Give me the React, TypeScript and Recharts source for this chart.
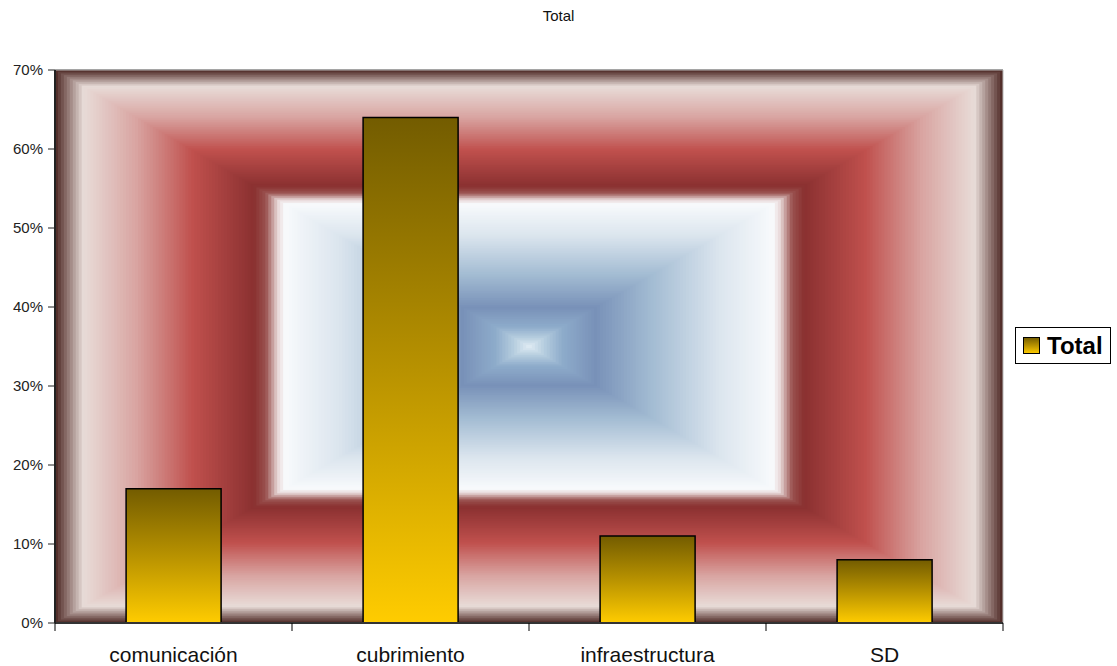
import React from "react";
import { Bar, BarChart, CartesianGrid, Legend, ReferenceArea, XAxis, YAxis } from "recharts";

const categories = ["comunicación", "cubrimiento", "infraestructura", "SD"];
const totals = [17, 64, 11, 8];
const yTicks = [0, 10, 20, 30, 40, 50, 60, 70];
const seriesName = "Total";

const data = categories.map((c, i) => ({ name: c, total: totals[i] }));

const FONT = "'Liberation Sans', Arial, Helvetica, sans-serif";

// rectangular "from centre" fill like the old Excel preset, t = 0 at the edge, 1 at the centre
const bgStops: [number, string][] = [
  [0, "#4a2420"],
  [0.06, "#e8dcd8"],
  [0.17, "#d9a5a2"],
  [0.29, "#c0504d"],
  [0.42, "#8a3030"],
  [0.445, "#9a5250"],
  [0.47, "#e8d8d8"],
  [0.485, "#f8fafc"],
  [0.6, "#dbe5ee"],
  [0.74, "#a3bcd3"],
  [0.86, "#7891b8"],
  [0.93, "#8eaccb"],
  [0.97, "#b8cfe0"],
  [1, "#e0ecf4"],
];

function hexToRgb(h: string) {
  const n = parseInt(h.slice(1), 16);
  return [(n >> 16) & 255, (n >> 8) & 255, n & 255];
}

function colorAt(t: number) {
  for (let i = 1; i < bgStops.length; i++) {
    const [t1, c1] = bgStops[i];
    const [t0, c0] = bgStops[i - 1];
    if (t <= t1) {
      const k = (t - t0) / (t1 - t0 || 1);
      const a = hexToRgb(c0);
      const b = hexToRgb(c1);
      const m = a.map((v, j) => Math.round(v + (b[j] - v) * k));
      return `rgb(${m[0]},${m[1]},${m[2]})`;
    }
  }
  return bgStops[bgStops.length - 1][1];
}

const STEPS = 160;

function Defs() {
  const rects = [];
  for (let i = 0; i < STEPS; i++) {
    const t = i / STEPS;
    rects.push(
      <rect key={i} x={t / 2} y={t / 2} width={1 - t} height={1 - t} fill={colorAt(t + 0.5 / STEPS)} />
    );
  }
  return (
    <svg width={0} height={0} style={{ position: "absolute" }}>
      <defs>
        <pattern id="plotBg" patternUnits="objectBoundingBox" patternContentUnits="objectBoundingBox" width="1" height="1">
          {rects}
        </pattern>
        <linearGradient id="barFill" x1="0" y1="0" x2="0" y2="1">
          <stop offset="0%" stopColor="#735c00" />
          <stop offset="50%" stopColor="#b89200" />
          <stop offset="100%" stopColor="#ffcc00" />
        </linearGradient>
      </defs>
    </svg>
  );
}

function CatTick(props: any) {
  const { x, payload, index } = props;
  const half = payload && payload.offset ? payload.offset : 118.5;
  const last = index === categories.length - 1;
  return (
    <g>
      <line x1={x - half} x2={x - half} y1={623} y2={631} stroke="#000" />
      {last && <line x1={x + half} x2={x + half} y1={623} y2={631} stroke="#000" />}
      <text x={x} y={662} textAnchor="middle" fontSize={21} fill="#111" fontFamily={FONT}>
        {payload.value}
      </text>
    </g>
  );
}

function LegendBox() {
  return (
    <div
      style={{
        width: 96,
        height: 37,
        border: "1px solid #000",
        background: "#fff",
        display: "flex",
        alignItems: "center",
        boxSizing: "border-box",
        paddingLeft: 7,
      }}
    >
      <svg width={18} height={18} style={{ marginRight: 6 }}>
        <rect x={0.5} y={0.5} width={16} height={16} fill="url(#barFill)" stroke="#000" />
      </svg>
      <span style={{ fontFamily: FONT, fontWeight: "bold", fontSize: 24, color: "#000" }}>{seriesName}</span>
    </div>
  );
}

export default function App() {
  return (
    <div style={{ position: "absolute", left: 0, top: 0, width: 1117, height: 666, background: "#fff" }}>
      <Defs />
      <div
        style={{
          position: "absolute",
          top: 7,
          left: 0,
          width: 1117,
          textAlign: "center",
          fontFamily: FONT,
          fontSize: 15,
          color: "#111",
        }}
      >
        Total
      </div>
      <BarChart
        width={1117}
        height={666}
        data={data}
        margin={{ top: 70, right: 18, bottom: 0, left: 0 }}
        barCategoryGap="30%"
      >
        <ReferenceArea y1={0} y2={70} fill="url(#plotBg)" fillOpacity={1} stroke="#b8b8b8" strokeWidth={1} />
        <CartesianGrid vertical={false} stroke="#222" strokeOpacity={1} />
        <XAxis
          dataKey="name"
          height={43}
          axisLine={{ stroke: "#333", strokeWidth: 2 }}
          tickLine={false}
          tickSize={8}
          tick={<CatTick />}
          interval={0}
        />
        <YAxis
          width={55}
          domain={[0, 70]}
          ticks={yTicks}
          tickFormatter={(v) => `${v}%`}
          axisLine={{ stroke: "#222", strokeWidth: 2 }}
          tickLine={{ stroke: "#222" }}
          tickSize={7}
          tickMargin={5}
          tick={{ fontSize: 15, fill: "#222", fontFamily: FONT }}
        />
        <Legend
          layout="vertical"
          align="right"
          verticalAlign="middle"
          content={<LegendBox />}
          wrapperStyle={{ right: 6, top: 327, width: 96 }}
        />
        <Bar
          dataKey="total"
          name={seriesName}
          fill="url(#barFill)"
          stroke="#000"
          strokeWidth={1.5}
          isAnimationActive={false}
        />
      </BarChart>
    </div>
  );
}
